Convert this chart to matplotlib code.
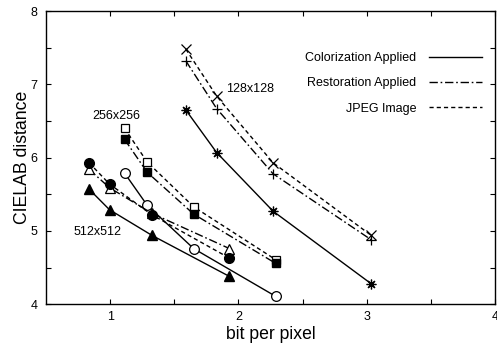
import matplotlib
matplotlib.use("Agg")
import matplotlib.pyplot as plt
from matplotlib.ticker import MultipleLocator, FixedLocator

plt.rcParams['font.family'] = ['Liberation Sans', 'DejaVu Sans']

# bit per pixel for each resolution
bpp_128 = [1.59, 1.83, 2.27, 3.035]
bpp_256 = [1.112, 1.289, 1.651, 2.289]
bpp_512 = [0.836, 0.995, 1.326, 1.930]

# CIELAB distance, 128x128
jpeg_128 = [7.48, 6.84, 5.93, 4.94]
rest_128 = [7.32, 6.67, 5.78, 4.88]
color_128 = [6.65, 6.07, 5.27, 4.28]

# 256x256
jpeg_256 = [6.40, 5.94, 5.33, 4.61]
rest_256 = [6.25, 5.80, 5.23, 4.56]
color_256 = [5.79, 5.35, 4.76, 4.11]

# 512x512
jpeg_512 = [5.93, 5.64, 5.22, 4.63]
rest_512 = [5.84, 5.59, 5.24, 4.76]
color_512 = [5.57, 5.29, 4.94, 4.38]

solid = '-'
dashdot = (0, (6, 2, 1.2, 2))
dashed = (0, (3, 2.2))
lw = 1.0

fig = plt.figure(figsize=(4.97, 3.5), dpi=100)
ax = fig.add_axes([46/497, 1 - 304.3/350, 449/497, (304.3 - 11)/350])

# legend entries
ax.plot([], [], color='black', ls=solid, lw=lw, label='Colorization Applied')
ax.plot([], [], color='black', ls=dashdot, lw=lw, label='Restoration Applied')
ax.plot([], [], color='black', ls=dashed, lw=lw, label='JPEG Image')

# 128x128
ax.plot(bpp_128, jpeg_128, color='black', ls=dashed, lw=lw, marker='x', ms=7, mew=0.9)
ax.plot(bpp_128, rest_128, color='black', ls=dashdot, lw=lw, marker='+', ms=7, mew=0.9)
ax.plot(bpp_128, color_128, color='black', ls=solid, lw=lw, marker=(8, 2, 0), ms=7, mew=0.9)

# 256x256
ax.plot(bpp_256, jpeg_256, color='black', ls=dashed, lw=lw, marker='s', ms=6.4,
        mfc='white', mec='black', mew=0.9)
ax.plot(bpp_256, rest_256, color='black', ls=dashdot, lw=lw, marker='s', ms=6.4,
        mfc='black', mec='black')
ax.plot(bpp_256, color_256, color='black', ls=solid, lw=lw, marker='o', ms=7,
        mfc='white', mec='black', mew=0.9)

# 512x512
ax.plot(bpp_512, rest_512, color='black', ls=dashdot, lw=lw, marker='^', ms=6.8,
        mfc='white', mec='black', mew=0.9)
ax.plot(bpp_512, jpeg_512, color='black', ls=dashed, lw=lw, marker='o', ms=7,
        mfc='black', mec='black')
ax.plot(bpp_512, color_512, color='black', ls=solid, lw=lw, marker='^', ms=6.8,
        mfc='black', mec='black')

ax.text(2.09, 6.94, '128x128', fontsize=9, ha='center', va='center')
ax.text(1.05, 6.57, '256x256', fontsize=9, ha='center', va='center')
ax.text(0.904, 4.99, '512x512', fontsize=9, ha='center', va='center')

ax.set_xlim(0.5, 4)
ax.set_ylim(4, 8)
ax.xaxis.set_major_locator(FixedLocator([1, 2, 3, 4]))
ax.xaxis.set_minor_locator(FixedLocator([1.5, 2.5, 3.5]))
ax.yaxis.set_major_locator(MultipleLocator(1))
ax.yaxis.set_minor_locator(MultipleLocator(0.5))
ax.tick_params(which='both', direction='in', top=True, right=True, length=3.5,
               width=0.8, labelsize=9)
ax.tick_params(axis='x', pad=5)
ax.tick_params(axis='y', pad=6)
for s in ax.spines.values():
    s.set_linewidth(1.0)

ax.set_xlabel('bit per pixel', fontsize=12.7, labelpad=2)
ax.set_ylabel('CIELAB distance', fontsize=12.7, labelpad=0)

ax.legend(loc='upper right', bbox_to_anchor=(482/497, 1 - 52/350),
          bbox_transform=fig.transFigure, frameon=False, markerfirst=False,
          fontsize=9, handlelength=4.25, handletextpad=1.0, labelspacing=1.07,
          borderpad=0, borderaxespad=0)

fig.savefig('out.png', dpi=100)
